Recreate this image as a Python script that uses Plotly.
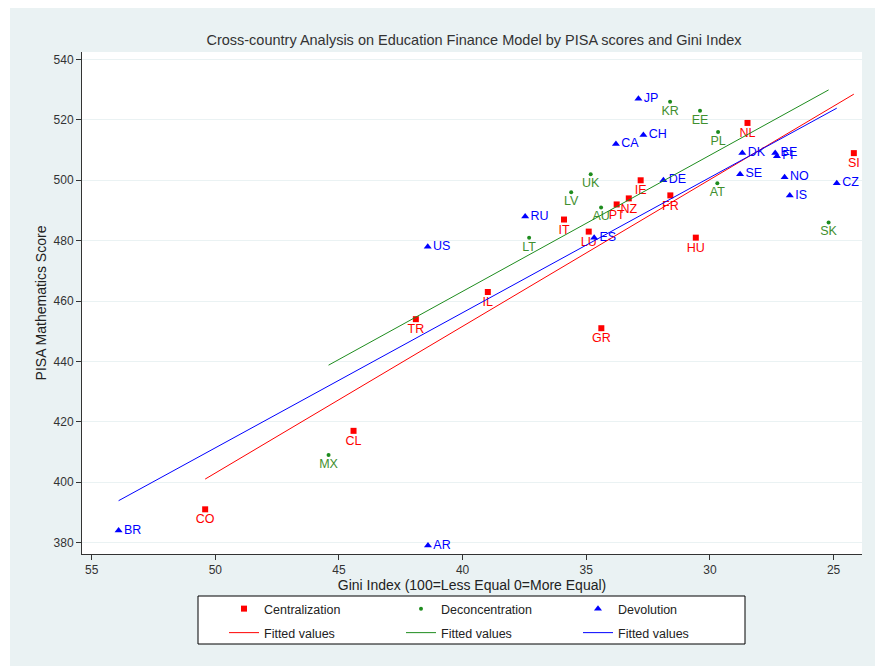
import numpy as np
import plotly.graph_objects as go

# ---- data ----
cen_labels = ["TR", "IL", "CL", "CO", "GR", "HU", "IT", "LU", "PT", "NZ", "IE", "FR", "NL", "SI"]
cen_gini = [41.89, 38.98, 44.41, 50.41, 34.39, 30.57, 35.90, 34.90, 33.77, 33.28, 32.80, 31.60, 28.48, 24.18]
cen_pisa = [454, 463, 417, 391, 451, 481, 487, 483, 492, 494, 500, 495, 519, 509]

dec_labels = ["MX", "LT", "LV", "UK", "AU", "KR", "EE", "PL", "AT", "SK"]
dec_gini = [45.42, 37.31, 35.61, 34.82, 34.40, 31.61, 30.40, 29.67, 29.70, 25.20]
dec_pisa = [409, 481, 496, 502, 491, 526, 523, 516, 499, 486]

dev_labels = ["BR", "AR", "US", "RU", "ES", "CA", "JP", "CH", "DE", "DK", "SE", "BE", "FI", "NO", "IS", "CZ"]
dev_gini = [53.91, 41.40, 41.41, 37.47, 34.68, 33.80, 32.89, 32.69, 31.88, 28.69, 28.78, 27.36, 27.29, 26.98, 26.77, 24.87]
dev_pisa = [384, 379, 478, 488, 481, 512, 527, 515, 500, 509, 502, 509, 508, 501, 495, 499]

y_ticks = [380, 400, 420, 440, 460, 480, 500, 520, 540]
x_ticks = [55, 50, 45, 40, 35, 30, 25]

RED = "#FF0000"
GREEN = "#1E8C1E"
BLUE = "#0000FF"
FONT = "Liberation Sans, Arial, sans-serif"
BG = "#EAF2F3"

W, H = 875, 666
ML, MR, MT, MB = 82, 13, 52, 112
PW, PH = W - ML - MR, H - MT - MB


def px_x(px):
    return (px - ML) / PW


def px_y(py):
    return (H - MB - py) / PH


def fit_line(xs, ys):
    xs = np.asarray(xs, float)
    ys = np.asarray(ys, float)
    b, a = np.polyfit(xs, ys, 1)
    xx = np.array([xs.min(), xs.max()])
    return xx, a + b * xx


fig = go.Figure()

fig.add_trace(go.Scatter(
    x=cen_gini, y=cen_pisa, mode="markers+text", text=cen_labels,
    textposition="bottom center", textfont=dict(color=RED, size=12.5, family=FONT),
    marker=dict(symbol="square", size=6, color=RED), name="Centralization", legend="legend"))
fig.add_trace(go.Scatter(
    x=dec_gini, y=dec_pisa, mode="markers+text", text=dec_labels,
    textposition="bottom center", textfont=dict(color="#3F8F2F", size=12.5, family=FONT),
    marker=dict(symbol="circle", size=4, color=GREEN), name="Deconcentration", legend="legend"))
fig.add_trace(go.Scatter(
    x=dev_gini, y=dev_pisa, mode="markers+text", text=dev_labels,
    textposition="middle right", textfont=dict(color=BLUE, size=12.5, family=FONT),
    marker=dict(symbol="triangle-up", size=7, color=BLUE), name="Devolution", legend="legend"))

for xs, ys, col in [(cen_gini, cen_pisa, RED), (dec_gini, dec_pisa, GREEN), (dev_gini, dev_pisa, BLUE)]:
    fx, fy = fit_line(xs, ys)
    fig.add_trace(go.Scatter(x=fx, y=fy, mode="lines", line=dict(color=col, width=1),
                             name="Fitted values", legend="legend2"))

leg_common = dict(orientation="h", xanchor="left", yanchor="top", x=px_x(224),
                  bgcolor="rgba(0,0,0,0)", borderwidth=0, entrywidth=132,
                  font=dict(size=12.5, color="#222222", family=FONT), traceorder="normal")

fig.update_layout(
    width=W, height=H,
    margin=dict(l=ML, r=MR, t=MT, b=MB),
    paper_bgcolor=BG, plot_bgcolor="white",
    font=dict(family=FONT, size=12, color="#333333"),
    title=dict(text="Cross-country Analysis on Education Finance Model by PISA scores and Gini Index",
               xref="container", yref="container",
               x=474 / W, xanchor="center", y=1 - 40 / H, yanchor="middle",
               font=dict(size=14.5, color="#333333", family=FONT)),
    showlegend=True,
    legend=dict(y=px_y(594), **leg_common),
    legend2=dict(y=px_y(618), **leg_common),
    shapes=[
        dict(type="rect", xref="paper", yref="paper", x0=px_x(198), x1=px_x(745), y0=px_y(644), y1=px_y(596),
             fillcolor="white", line=dict(width=1, color="black"), layer="below"),
        # white page strips outside the graph region (left and top)
        dict(type="rect", xref="paper", yref="paper", x0=px_x(0), x1=px_x(10), y0=px_y(H), y1=px_y(0),
             fillcolor="white", line=dict(width=0), layer="above"),
        dict(type="rect", xref="paper", yref="paper", x0=px_x(0), x1=px_x(W), y0=px_y(8), y1=px_y(0),
             fillcolor="white", line=dict(width=0), layer="above"),
    ],
)

fig.update_xaxes(
    range=[55.39, 23.85], tickvals=x_ticks, ticks="outside", ticklen=5, tickcolor="#333333",
    showline=True, linecolor="#333333", linewidth=1, showgrid=False, zeroline=False,
    tickfont=dict(size=12, color="#333333"),
    title=dict(text="Gini Index (100=Less Equal 0=More Equal)", standoff=0,
               font=dict(size=14, color="#222222")))
fig.update_yaxes(
    range=[376.2, 542.5], tickvals=y_ticks, ticks="outside", ticklen=5, tickcolor="#333333",
    showline=True, linecolor="#333333", linewidth=1, showgrid=True, gridcolor=BG, gridwidth=1,
    zeroline=False, tickfont=dict(size=12, color="#333333"),
    title=dict(text="PISA Mathematics Score", standoff=3, font=dict(size=14, color="#222222")))

fig.write_html("out.html", config={"displayModeBar": False},
               post_script="document.body.style.margin='0';")
